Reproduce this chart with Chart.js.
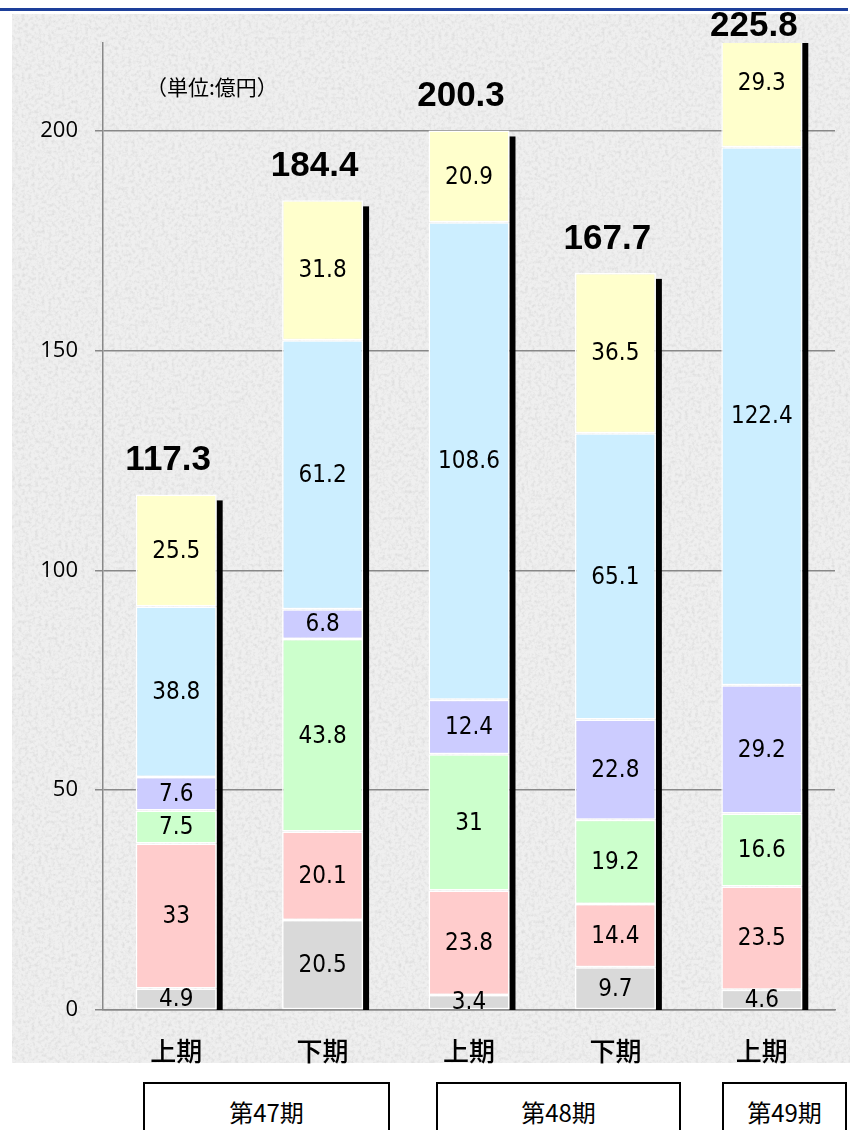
<!DOCTYPE html>
<html>
<head>
<meta charset="utf-8">
<script src="https://cdn.jsdelivr.net/npm/chart.js@4.4.1/dist/chart.umd.min.js"></script>
<style>
body { margin: 0; width: 850px; height: 1130px; overflow: hidden; background: #fff; position: relative; font-family: "Noto Sans CJK JP", sans-serif; }
#topline { position: absolute; left: 0; top: 8px; width: 848px; height: 3px; background: #1d3f9a; }
#stone {
	position: absolute; left: 12px; top: 14px; width: 838px; height: 1049px;
	background-color: #efefef;
	background-image: url("data:image/svg+xml;utf8,<svg xmlns='http://www.w3.org/2000/svg' width='838' height='1049'><filter id='n'><feTurbulence type='fractalNoise' baseFrequency='0.3' numOctaves='3' seed='4'/><feColorMatrix values='0 0 0 0 0.55  0 0 0 0 0.55  0 0 0 0 0.55  0.9 0 0 0 -0.38'/></filter><rect width='100%' height='100%' filter='url(%23n)'/></svg>");
}
#wrap { position: absolute; left: 0; top: 0; }
.unit { position: absolute; left: 146px; top: 75px; font-size: 21px; line-height: 22px; color: #000; }
.ki { position: absolute; top: 1082px; height: 70px; border: 2px solid #000; box-sizing: border-box; background: #fff;
	font-size: 24px; line-height: 56px; text-align: center; color: #000; }
</style>
</head>
<body>
<div id="topline"></div>
<div id="stone"></div>
<div id="wrap"><canvas id="bar-chart" width="850" height="1065"></canvas></div>
<div class="unit">（単位:億円）</div>
<div class="ki" style="left:143px;width:247px;">第47期</div>
<div class="ki" style="left:436px;width:245px;">第48期</div>
<div class="ki" style="left:722px;width:125px;">第49期</div>
<script>
const labels = ['上期', '下期', '上期', '下期', '上期'];
const gray = [4.9, 20.5, 3.4, 9.7, 4.6];
const pink = [33, 20.1, 23.8, 14.4, 23.5];
const green = [7.5, 43.8, 31, 19.2, 16.6];
const purple = [7.6, 6.8, 12.4, 22.8, 29.2];
const blue = [38.8, 61.2, 108.6, 65.1, 122.4];
const yellow = [25.5, 31.8, 20.9, 36.5, 29.3];
const totals = [117.3, 184.4, 200.3, 167.7, 225.8];
const yTicks = [0, 50, 100, 150, 200];

const series = [
	{ data: gray, color: '#d9d9d9' },
	{ data: pink, color: '#ffcccc' },
	{ data: green, color: '#ccffcc' },
	{ data: purple, color: '#ccccff' },
	{ data: blue, color: '#cceeff' },
	{ data: yellow, color: '#ffffcc' }
];

// black shadow on the right, value labels, totals
const overlay = {
	id: 'overlay',
	beforeDatasetsDraw(chart) {
		const ctx = chart.ctx;
		const area = chart.chartArea;
		const zero = chart.scales.y.getPixelForValue(0);
		const topMeta = chart.getDatasetMeta(series.length - 1);
		ctx.save();
		ctx.beginPath();
		ctx.rect(area.left, area.top, area.right - area.left, area.bottom - area.top);
		ctx.clip();
		ctx.fillStyle = '#000';
		topMeta.data.forEach(bar => {
			const y0 = bar.y + 6;
			ctx.fillRect(bar.x + bar.width / 2, y0, 6, zero - y0);
		});
		ctx.restore();
	},
	afterDatasetsDraw(chart) {
		const ctx = chart.ctx;
		ctx.save();
		ctx.fillStyle = '#000';
		ctx.textAlign = 'center';
		ctx.textBaseline = 'middle';
		ctx.font = '24px "Liberation Sans Narrow", "DejaVu Sans Condensed", "Liberation Sans", sans-serif';
		series.forEach((s, di) => {
			chart.getDatasetMeta(di).data.forEach((bar, i) => {
				ctx.fillText(String(s.data[i]), bar.x, (bar.y + bar.base) / 2 + 1);
			});
		});
		ctx.font = 'bold 35px "Liberation Sans", Arial, sans-serif';
		chart.getDatasetMeta(series.length - 1).data.forEach((bar, i) => {
			const y = Math.max(bar.y - 34, 26);
			ctx.fillText(totals[i].toFixed(1), bar.x - 8, y);
		});
		ctx.restore();
	}
};

new Chart(document.querySelector('#bar-chart'), {
	type: 'bar',
	data: {
		labels: labels,
		datasets: series.map(s => ({
			data: s.data,
			backgroundColor: s.color,
			borderColor: '#ffffff',
			borderWidth: 1.5,
			borderSkipped: false,
			categoryPercentage: 1,
			barPercentage: 0.553
		}))
	},
	options: {
		responsive: false,
		animation: false,
		layout: { padding: { top: 43, right: 15, left: 0, bottom: 0 } },
		plugins: {
			legend: { display: false },
			tooltip: { enabled: false }
		},
		scales: {
			x: {
				stacked: true,
				grid: { display: false },
				border: { color: '#888', width: 1.5 },
				afterFit(s) { s.height = 55; },
				ticks: { padding: 18, color: '#000', font: { family: '"Noto Sans CJK JP"', size: 26, weight: '500' } }
			},
			y: {
				stacked: true,
				min: 0,
				max: 220,
				afterFit(s) { s.width = 103; },
				afterBuildTicks(s) { s.ticks = yTicks.map(v => ({ value: v })); },
				border: { color: '#888', width: 1.5 },
				grid: { color: '#888', lineWidth: 1.5, tickLength: 8 },
				ticks: { padding: 17, color: '#000', font: { family: '"Open Sans"', size: 22 } }
			}
		}
	},
	plugins: [overlay]
});
</script>
</body>
</html>
